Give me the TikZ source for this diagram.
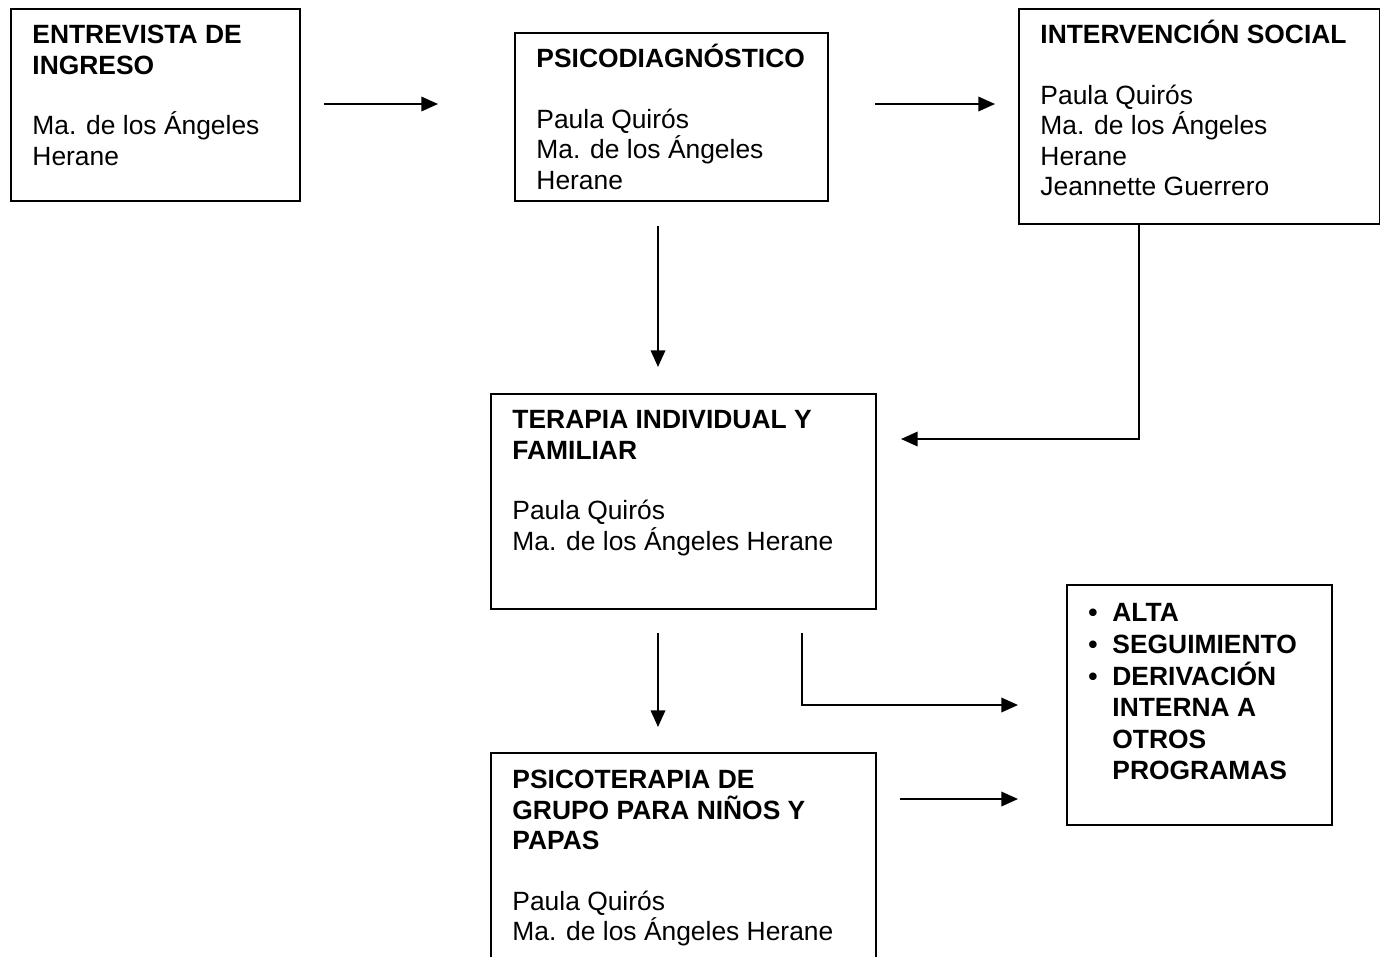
\documentclass[tikz,border=0pt]{standalone}
\usepackage{fontspec}
\setmainfont{Liberation Sans}
\usetikzlibrary{arrows.meta}
\tikzset{
  box/.style={draw, line width=0.91pt, rectangle, inner sep=0pt, anchor=north west},
  txt/.style={anchor=north west, inner sep=0pt, align=left,
    font=\fontsize{12pt}{13.8pt}\selectfont},
  flow/.style={line width=0.91pt, -{Triangle[length=7.6pt, width=6.6pt]}},
}
\newcommand\fl{\rule{0pt}{12pt}}
\begin{document}
\begin{tikzpicture}[x=0.4545pt, y=-0.4545pt]
\useasboundingbox (0,0) rectangle (1380,956);
\clip (0,0) rectangle (1380,956);
\fill[white] (0,0) rectangle (1380,956);

% boxes
\node[box, minimum width=131.35pt, minimum height=87.26pt] (b1) at (10,8) {};
\node[box, minimum width=142.26pt, minimum height=76.36pt] (b2) at (514,32) {};
\node[box, minimum width=164.07pt, minimum height=97.72pt] (b3) at (1018,8) {};
\node[box, minimum width=174.98pt, minimum height=97.72pt] (b4) at (490,393) {};
\node[box, minimum width=120.44pt, minimum height=109.08pt] (b5) at (1066,584) {};
\node[box, minimum width=174.98pt, minimum height=118.17pt] (b6) at (490,752) {};

% texts (first baseline sits 12pt below the node top)
\node[txt] (t1) at (32,17) {\fl\textbf{ENTREVISTA DE}\\\textbf{INGRESO}\\[13.8pt]
  Ma. de los Ángeles\\Herane};
\node[txt] (t2) at (536,41) {\fl\textbf{PSICODIAGNÓSTICO}\\[13.8pt]
  Paula Quirós\\Ma. de los Ángeles\\Herane};
\node[txt] (t3) at (1040,17) {\fl\textbf{INTERVENCIÓN SOCIAL}\\[13.8pt]
  Paula Quirós\\Ma. de los Ángeles\\Herane\\Jeannette Guerrero};
\node[txt] (t4) at (512,402) {\fl\textbf{TERAPIA INDIVIDUAL Y}\\\textbf{FAMILIAR}\\[13.8pt]
  Paula Quirós\\Ma. de los Ángeles Herane};
\node[txt, font=\fontsize{12pt}{14.36pt}\selectfont\bfseries] (t5) at (1088,595)
  {\fl\makebox[10.9pt][l]{•}ALTA\\
   \makebox[10.9pt][l]{•}SEGUIMIENTO\\
   \makebox[10.9pt][l]{•}DERIVACIÓN\\
   \hspace*{10.9pt}INTERNA A\\
   \hspace*{10.9pt}OTROS\\
   \hspace*{10.9pt}PROGRAMAS};
\node[txt] (t6) at (512,762) {\fl\textbf{PSICOTERAPIA DE}\\\textbf{GRUPO PARA NIÑOS Y}\\\textbf{PAPAS}\\[13.8pt]
  Paula Quirós\\Ma. de los Ángeles Herane};

% helper coordinates for connector positions
\coordinate (yA) at (0,104);
\coordinate (xB) at (658,0);
\coordinate (xC) at (1139,0);
\coordinate (yC) at (0,439);
\coordinate (xD) at (802,0);
\coordinate (yD) at (0,705);
\coordinate (yE) at (0,799);

% connectors
\draw[flow, shorten <=10.45pt, shorten >=34.54pt] (b1.east |- yA) -- (b2.west |- yA);
\draw[flow, shorten <=20.9pt, shorten >=10.45pt] (b2.east |- yA) -- (b3.west |- yA);
\draw[flow, shorten <=10.9pt, shorten >=11.82pt] (xB |- b2.south) -- (xB |- b4.north);
\draw[flow, shorten >=10.9pt] (xC |- b3.south) |- (b4.east |- yC);
\draw[flow, shorten <=10.45pt, shorten >=11.36pt] (xB |- b4.south) -- (xB |- b6.north);
\draw[flow, shorten <=10.45pt, shorten >=21.82pt] (xD |- b4.south) |- (b5.west |- yD);
\draw[flow, shorten <=10.45pt, shorten >=21.82pt] (b6.east |- yE) -- (b5.west |- yE);
\end{tikzpicture}
\end{document}
